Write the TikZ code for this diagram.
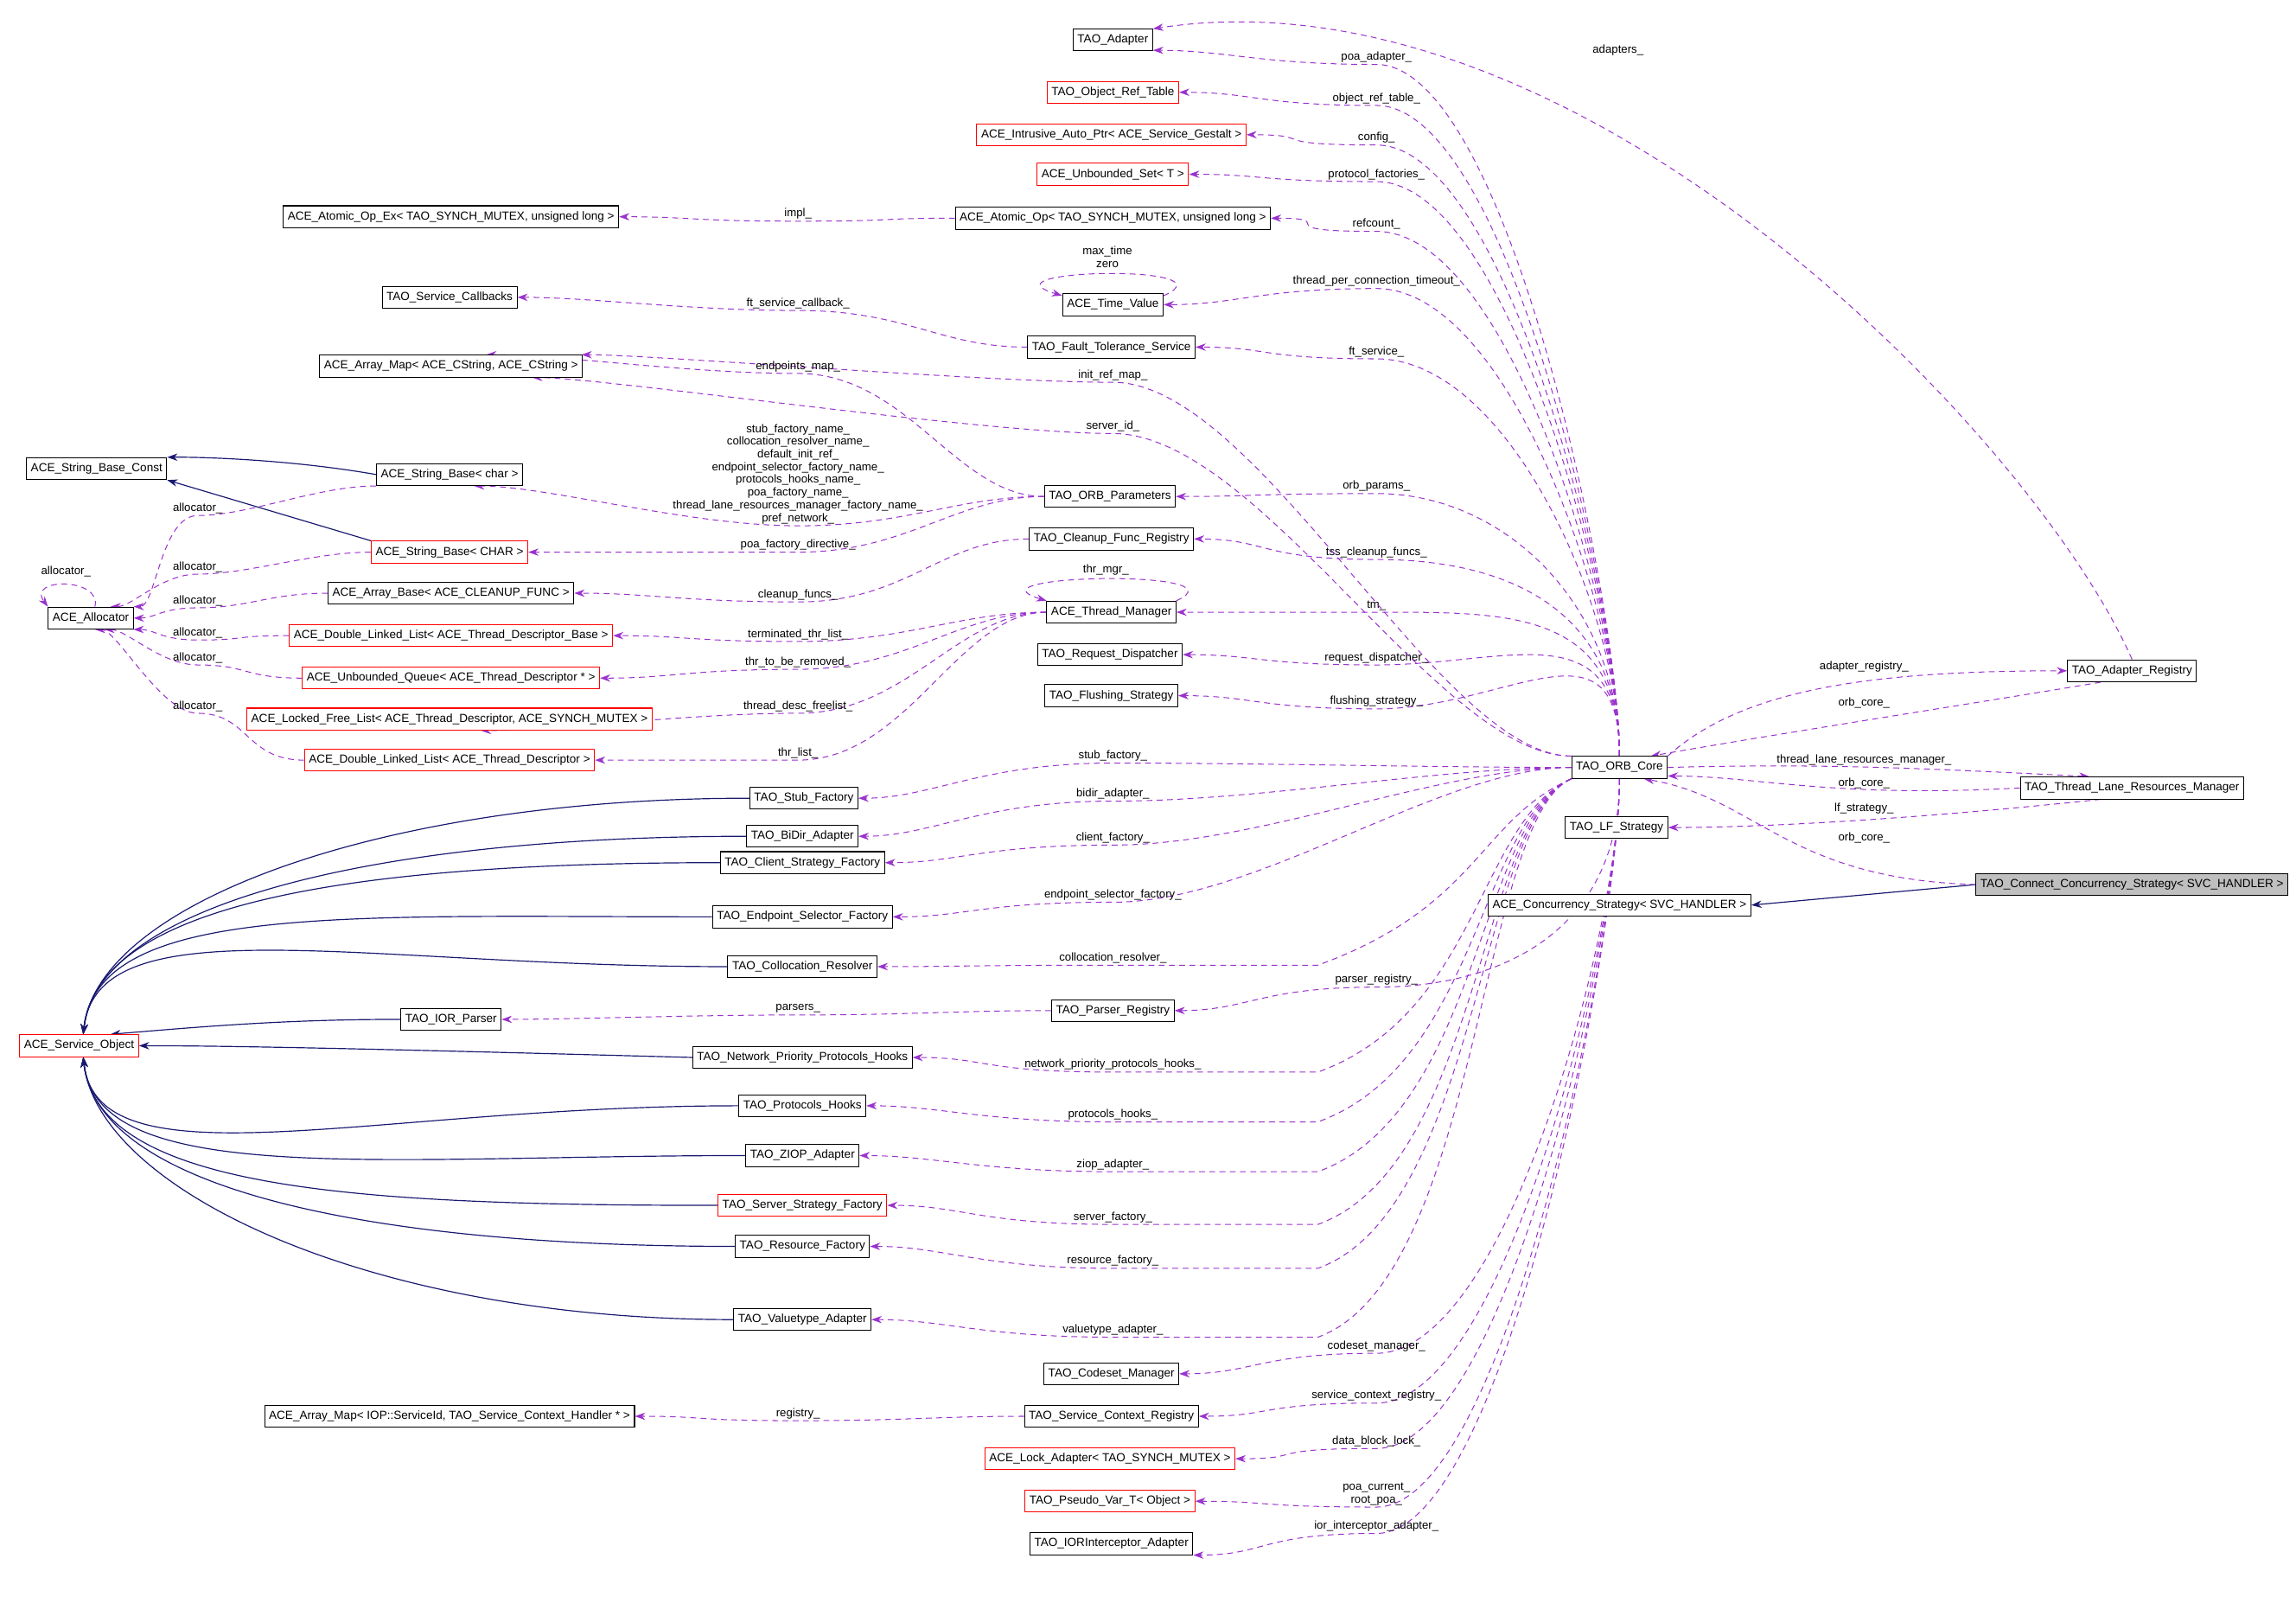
\documentclass[tikz,border=0pt]{standalone}
\usepackage{fontspec}
\setmainfont{Liberation Sans}
\usetikzlibrary{arrows.meta,backgrounds}
\definecolor{dep}{HTML}{9A32CD}
\definecolor{inh}{HTML}{191970}
\tikzset{
  box/.style={draw=black, line width=0.6pt, fill=white, inner xsep=3pt, inner ysep=0pt, minimum height=15pt, font=\fontsize{8}{9}\selectfont},
  redbox/.style={box, draw=red},
  greybox/.style={box, fill=black!25},
  lbl/.style={font=\fontsize{7.8}{8.7}\selectfont, align=center, inner sep=1pt},
  dep/.style={draw=dep, line width=0.6pt, dash pattern=on 4pt off 3pt, -{Stealth[length=7pt,width=5pt]}},
  inh/.style={draw=inh, line width=0.7pt, -{Stealth[length=7pt,width=5pt]}}
}
\begin{document}
\begin{tikzpicture}[x=1pt, y=-1pt]
\useasboundingbox (0,0) rectangle (1568,1103);

% left column
\node[box] (sbconst) at (66,320) {ACE\_String\_Base\_Const};
\node[box] (alloc) at (62,422) {ACE\_Allocator};
\node[redbox] (svcobj) at (54,714) {ACE\_Service\_Object};
\node[box] (atomicex) at (308,148) {ACE\_Atomic\_Op\_Ex< TAO\_SYNCH\_MUTEX, unsigned long >};
\node[box] (callbacks) at (307,203) {TAO\_Service\_Callbacks};
\node[box] (amap) at (308,250) {ACE\_Array\_Map< ACE\_CString, ACE\_CString >};
\node[box] (sbchar) at (307,324) {ACE\_String\_Base< char >};
\node[redbox] (sbCHAR) at (307,377) {ACE\_String\_Base< CHAR >};
\node[box] (abase) at (308,405) {ACE\_Array\_Base< ACE\_CLEANUP\_FUNC >};
\node[redbox] (dllbase) at (308,434) {ACE\_Double\_Linked\_List< ACE\_Thread\_Descriptor\_Base >};
\node[redbox] (uqueue) at (308,463) {ACE\_Unbounded\_Queue< ACE\_Thread\_Descriptor * >};
\node[redbox] (lfl) at (307,491) {ACE\_Locked\_Free\_List< ACE\_Thread\_Descriptor, ACE\_SYNCH\_MUTEX >};
\node[redbox] (dll) at (307,519) {ACE\_Double\_Linked\_List< ACE\_Thread\_Descriptor >};
\node[box] (iorparser) at (308,696) {TAO\_IOR\_Parser};
\node[box] (amapiop) at (307,967) {ACE\_Array\_Map< IOP::ServiceId, TAO\_Service\_Context\_Handler * >};

% middle column
\node[box] (adapter) at (760,27) {TAO\_Adapter};
\node[redbox] (objref) at (760,63) {TAO\_Object\_Ref\_Table};
\node[redbox] (gestalt) at (759,92) {ACE\_Intrusive\_Auto\_Ptr< ACE\_Service\_Gestalt >};
\node[redbox] (uset) at (760,119) {ACE\_Unbounded\_Set< T >};
\node[box] (atomic) at (760,149) {ACE\_Atomic\_Op< TAO\_SYNCH\_MUTEX, unsigned long >};
\node[box] (timeval) at (760,208) {ACE\_Time\_Value};
\node[box] (ft) at (759,237) {TAO\_Fault\_Tolerance\_Service};
\node[box] (orbparams) at (758,339) {TAO\_ORB\_Parameters};
\node[box] (cleanup) at (759,368) {TAO\_Cleanup\_Func\_Registry};
\node[box] (thrmgr) at (759,418) {ACE\_Thread\_Manager};
\node[box] (reqdisp) at (758,447) {TAO\_Request\_Dispatcher};
\node[box] (flush) at (759,475) {TAO\_Flushing\_Strategy};
\node[box] (stub) at (549,545) {TAO\_Stub\_Factory};
\node[box] (bidir) at (548,571) {TAO\_BiDir\_Adapter};
\node[box] (client) at (548,589) {TAO\_Client\_Strategy\_Factory};
\node[box] (endpoint) at (548,626) {TAO\_Endpoint\_Selector\_Factory};
\node[box] (colloc) at (548,660) {TAO\_Collocation\_Resolver};
\node[box] (parser) at (760,690) {TAO\_Parser\_Registry};
\node[box] (network) at (548,722) {TAO\_Network\_Priority\_Protocols\_Hooks};
\node[box] (prothooks) at (548,755) {TAO\_Protocols\_Hooks};
\node[box] (ziop) at (548,789) {TAO\_ZIOP\_Adapter};
\node[redbox] (server) at (548,823) {TAO\_Server\_Strategy\_Factory};
\node[box] (resource) at (548,851) {TAO\_Resource\_Factory};
\node[box] (valuetype) at (548,901) {TAO\_Valuetype\_Adapter};
\node[box] (codeset) at (759,938) {TAO\_Codeset\_Manager};
\node[box] (scr) at (759,967) {TAO\_Service\_Context\_Registry};
\node[redbox] (lock) at (758,996) {ACE\_Lock\_Adapter< TAO\_SYNCH\_MUTEX >};
\node[redbox] (pseudo) at (758,1025) {TAO\_Pseudo\_Var\_T< Object >};
\node[box] (iorint) at (759,1054) {TAO\_IORInterceptor\_Adapter};

% right part
\node[box] (core) at (1106,524) {TAO\_ORB\_Core};
\node[box] (lf) at (1104,565) {TAO\_LF\_Strategy};
\node[box] (concur) at (1106,618) {ACE\_Concurrency\_Strategy< SVC\_HANDLER >};
\node[box] (areg) at (1456,458) {TAO\_Adapter\_Registry};
\node[box] (tlrm) at (1456,538) {TAO\_Thread\_Lane\_Resources\_Manager};
\node[greybox] (connect) at (1456,604) {TAO\_Connect\_Concurrency\_Strategy< SVC\_HANDLER >};

\begin{pgfonlayer}{background}
% inheritance
\draw[inh] (sbchar.west) .. controls (200,314) and (140,312) .. (sbconst.north east);
\draw[inh] (sbCHAR.north west) -- (sbconst.south east);
\foreach \c in {stub,bidir,client,endpoint,colloc}
  \draw[inh] (\c.west) .. controls +(-250,0) and +(10,-90) .. (svcobj.70);
\draw[inh] (iorparser.west) .. controls +(-80,0) and +(60,-5) .. (svcobj.20);
\draw[inh] (network.west) .. controls +(-150,-4) and +(80,0) .. (svcobj.east);
\foreach \c in {prothooks,ziop,server,resource,valuetype}
  \draw[inh] (\c.west) .. controls +(-250,0) and +(10,90) .. (svcobj.-70);
\draw[inh] (connect.west) -- (concur.east);

% members of the core, upwards
\foreach \t/\l/\ly in {adapter.-15/poa\_adapter\_/44, objref.east/object\_ref\_table\_/72,
  gestalt.east/config\_/99, uset.east/protocol\_factories\_/124, atomic.east/refcount\_/158,
  timeval.east/thread\_per\_connection\_timeout\_/197, ft.east/ft\_service\_/245,
  orbparams.east/orb\_params\_/337, cleanup.east/tss\_cleanup\_funcs\_/382, thrmgr.east/tm\_/418,
  reqdisp.east/request\_dispatcher\_/454, flush.east/flushing\_strategy\_/484}
  \draw[dep] (core.north) .. controls +(0,-100) and (1030,\ly) .. (940,\ly) node[lbl,above] {\l}
    .. controls (860,\ly) and +(50,0) .. (\t);

% members of the core, downwards
\foreach \t/\l/\ly in {parser.east/parser\_registry\_/674, codeset.east/codeset\_manager\_/924,
  scr.east/service\_context\_registry\_/958, lock.east/data\_block\_lock\_/989,
  pseudo.east/{poa\_current\_\\root\_poa\_}/1029, iorint.south east/ior\_interceptor\_adapter\_/1047}
  \draw[dep] (core.south) .. controls +(0,100) and (1030,\ly) .. (940,\ly) node[lbl,above] {\l}
    .. controls (860,\ly) and +(50,0) .. (\t);

% members of the core, to the left
\foreach \s/\t/\l/\ly in {north west/amap.5/init\_ref\_map\_/261, north west/amap.-8/server\_id\_/296,
  west/stub.east/stub\_factory\_/521, west/bidir.east/bidir\_adapter\_/547,
  west/client.east/client\_factory\_/577, west/endpoint.east/endpoint\_selector\_factory\_/616}
  \draw[dep] (core.\s) .. controls +(-90,0) and (860,\ly) .. (760,\ly) node[lbl,above] {\l}
    .. controls (670,\ly) and +(50,0) .. (\t);
\foreach \t/\l/\ly in {colloc.east/collocation\_resolver\_/659,
  network.east/network\_priority\_protocols\_hooks\_/732,
  prothooks.east/protocols\_hooks\_/766, ziop.east/ziop\_adapter\_/800,
  server.east/server\_factory\_/836, resource.east/resource\_factory\_/866,
  valuetype.east/valuetype\_adapter\_/913}
  \draw[dep] (core.south west) .. controls (1010,560) and (1010,{\ly-40}) .. (900,\ly)
    .. controls (850,\ly) and (800,\ly) .. (760,\ly) node[lbl,above] {\l}
    .. controls (670,\ly) and +(50,0) .. (\t);

% members of the middle column
\foreach \s/\t/\l/\ly in {atomic/atomicex.east/impl\_/151, ft/callbacks.east/ft\_service\_callback\_/212,
  orbparams/amap.18/endpoints\_map\_/255,
  orbparams/sbchar.-25/{stub\_factory\_name\_\\collocation\_resolver\_name\_\\default\_init\_ref\_\\endpoint\_selector\_factory\_name\_\\protocols\_hooks\_name\_\\poa\_factory\_name\_\\thread\_lane\_resources\_manager\_factory\_name\_\\pref\_network\_}/359,
  orbparams/sbCHAR.east/poa\_factory\_directive\_/377, cleanup/abase.east/cleanup\_funcs\_/411,
  thrmgr/dllbase.east/terminated\_thr\_list\_/438, thrmgr/uqueue.east/thr\_to\_be\_removed\_/457,
  thrmgr/lfl.-20/thread\_desc\_freelist\_/487, thrmgr/dll.east/thr\_list\_/519,
  parser/iorparser.east/parsers\_/693, scr/amapiop.east/registry\_/970}
  \draw[dep] (\s.west) .. controls +(-60,0) and (620,\ly) .. (545,\ly) node[lbl,above] {\l}
    .. controls (470,\ly) and +(50,0) .. (\t);

% allocators
\foreach \s/\a/\ly in {sbchar.south west/north east/352, sbCHAR.west/30/392, abase.west/east/415,
  dllbase.west/-15/437, uqueue.west/-40/454, dll.west/-70/487}
  \draw[dep] (\s) .. controls +(-40,0) and (170,\ly) .. (135,\ly) node[lbl,above] {allocator\_}
    .. controls (110,\ly) and +(15,0) .. (alloc.\a);

% self references
\draw[dep] (alloc.70) .. controls +(5,-20) and +(-15,-20) .. (alloc.north west)
  node[lbl,pos=0.5,above=4pt] {allocator\_};
\draw[dep] (timeval.10) .. controls +(50,-22) and +(-60,-18) .. (timeval.170)
  node[lbl,pos=0.5,above=3pt] {max\_time\\zero};
\draw[dep] (thrmgr.10) .. controls +(50,-22) and +(-60,-18) .. (thrmgr.170)
  node[lbl,pos=0.5,above=1pt] {thr\_mgr\_};

% right side
\draw[dep] (areg.north) .. controls (1390,300) and (1080,-25) .. (adapter.15);
\node[lbl] (adlbl) at (1105,34) {adapters\_};
\draw[dep] (core.north east) .. controls (1190,470) and (1280,458) .. (areg.west);
\node[lbl] (arlbl) at (1273,455) {adapter\_registry\_};
\draw[dep] (areg.200) .. controls (1350,480) and (1220,500) .. (core.20);
\node[lbl] (oclbl1) at (1273,480) {orb\_core\_};
\draw[dep] (core.east) .. controls (1250,521) and (1320,525) .. (tlrm.165);
\node[lbl] (tllbl) at (1273,519) {thread\_lane\_resources\_manager\_};
\draw[dep] (tlrm.west) .. controls (1250,545) and (1200,530) .. (core.-10);
\node[lbl] (oclbl2) at (1273,535) {orb\_core\_};
\draw[dep] (tlrm.200) .. controls (1300,560) and (1200,565) .. (lf.east);
\node[lbl] (lflbl) at (1273,552) {lf\_strategy\_};
\draw[dep] (connect.west) .. controls (1220,600) and (1200,545) .. (core.-25);
\node[lbl] (oclbl3) at (1273,572) {orb\_core\_};
\end{pgfonlayer}
\end{tikzpicture}
\end{document}
